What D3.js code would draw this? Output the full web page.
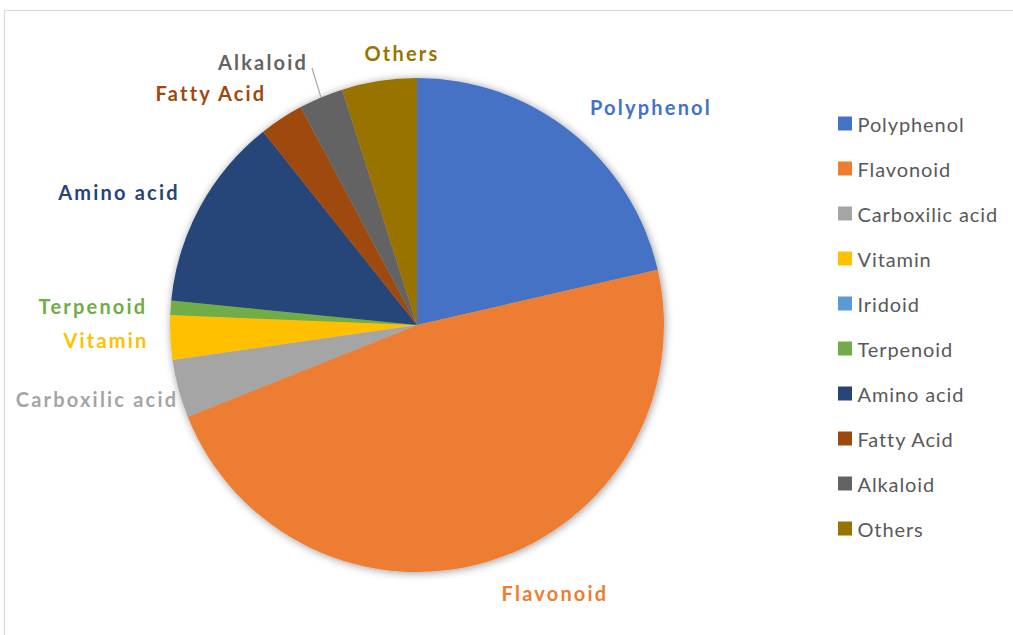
<!DOCTYPE html>
<html>
<head>
<meta charset="utf-8">
<script src="https://cdn.jsdelivr.net/npm/d3@7"></script>
<style>
  html, body { margin: 0; padding: 0; background: #fff; }
  svg { display: block; }
</style>
</head>
<body>
<svg id="chart" width="1013" height="635"></svg>
<script>
// Compound classes and their share (%)
const categories = ["Polyphenol", "Flavonoid", "Carboxilic acid", "Vitamin", "Iridoid",
                    "Terpenoid", "Amino acid", "Fatty Acid", "Alkaloid", "Others"];
const shares = [21.4, 47.5, 3.8, 2.9, 0, 0.95, 12.7, 2.9, 2.9, 4.9];
const colors = ["#4472C4", "#ED7D31", "#A5A5A5", "#FFC000", "#5B9BD5",
                "#70AD47", "#264478", "#9E480E", "#636363", "#997300"];

// Where each slice label sits, relative to the pie centre
const labelPlacement = {
  "Polyphenol": [233, -218],
  "Flavonoid": [137, 268],
  "Carboxilic acid": [-321, 74],
  "Vitamin": [-312, 15],
  "Terpenoid": [-325, -19],
  "Amino acid": [-299, -133],
  "Fatty Acid": [-207, -232],
  "Alkaloid": [-155, -263],
  "Others": [-16, -272]
};

const svg = d3.select("#chart");
const W = 1013, H = 635;
const cx = 417, cy = 325, R = 247;
const font = "Lato, 'Open Sans', sans-serif";

// Chart area frame
svg.append("rect")
  .attr("x", 4.5).attr("y", 10.5)
  .attr("width", W + 10).attr("height", H + 10)
  .attr("fill", "#fff").attr("stroke", "#D9D9D9").attr("stroke-width", 1.2);

// Soft outer shadow around the pie
const defs = svg.append("defs");
const f = defs.append("filter").attr("id", "pieShadow")
  .attr("x", "-10%").attr("y", "-10%").attr("width", "120%").attr("height", "120%");
f.append("feGaussianBlur").attr("in", "SourceAlpha").attr("stdDeviation", 4).attr("result", "blur");
f.append("feOffset").attr("in", "blur").attr("dx", 1).attr("dy", 1).attr("result", "off");
f.append("feComponentTransfer").attr("in", "off").attr("result", "shadow")
  .append("feFuncA").attr("type", "linear").attr("slope", 0.4);
const merge = f.append("feMerge");
merge.append("feMergeNode").attr("in", "shadow");
merge.append("feMergeNode").attr("in", "SourceGraphic");

const data = categories.map((c, i) => ({ name: c, value: shares[i], color: colors[i] }));

const pie = d3.pie().value(d => d.value).sort(null);
const arc = d3.arc().innerRadius(0).outerRadius(R);
const arcs = pie(data);

const g = svg.append("g").attr("transform", `translate(${cx},${cy})`);
g.append("g").attr("filter", "url(#pieShadow)")
  .selectAll("path")
  .data(arcs.filter(a => a.data.value > 0))
  .join("path")
  .attr("d", arc)
  .attr("fill", d => d.data.color);

// Leader line for the Alkaloid label
const alk = arcs.find(a => a.data.name === "Alkaloid");
const alkMid = (alk.startAngle + alk.endAngle) / 2;
const p0 = [R * Math.sin(alkMid), -R * Math.cos(alkMid)];
g.append("line")
  .attr("x1", p0[0]).attr("y1", p0[1])
  .attr("x2", labelPlacement["Alkaloid"][0] + 50).attr("y2", labelPlacement["Alkaloid"][1] + 6)
  .attr("stroke", "#A6A6A6").attr("stroke-width", 1.2);

// Slice labels
g.selectAll("text.lbl")
  .data(arcs.filter(a => labelPlacement[a.data.name]))
  .join("text")
  .attr("class", "lbl")
  .attr("x", d => labelPlacement[d.data.name][0] + 1)
  .attr("y", d => labelPlacement[d.data.name][1])
  .attr("text-anchor", "middle")
  .attr("dominant-baseline", "central")
  .attr("font-family", font)
  .attr("font-weight", "bold")
  .attr("font-size", 20)
  .attr("letter-spacing", 2.2)
  .attr("fill", d => d.data.color)
  .text(d => d.data.name);

// Legend
const legend = svg.append("g").attr("transform", "translate(838,123.5)");
const rows = legend.selectAll("g").data(data).join("g")
  .attr("transform", (d, i) => `translate(0,${i * 45})`);
rows.append("rect")
  .attr("x", 0).attr("y", -7).attr("width", 14).attr("height", 14)
  .attr("fill", d => d.color);
rows.append("text")
  .attr("x", 19.5).attr("y", 0)
  .attr("dominant-baseline", "central")
  .attr("font-family", font)
  .attr("font-size", 20)
  .attr("letter-spacing", 0.9)
  .attr("fill", "#595959")
  .text(d => d.name);
</script>
</body>
</html>
